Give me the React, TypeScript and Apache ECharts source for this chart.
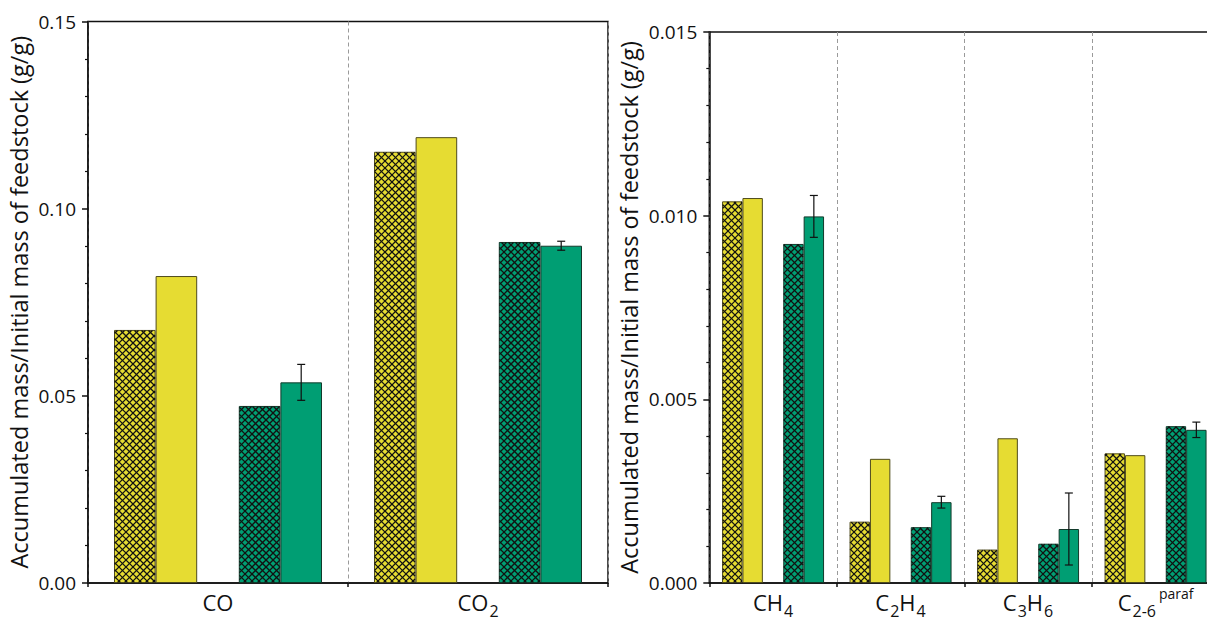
import React, { useEffect, useRef } from "react";
import * as echarts from "echarts";

// Gas categories (two panels)
const majorGases = ["CO", "CO2"];
const minorGases = ["CH4", "C2H4", "C3H6", "C2-6"];

// Accumulated mass / initial mass of feedstock (g/g)
const majorYellowHatched = [0.0676, 0.1152];
const majorYellow = [0.082, 0.1191];
const majorGreenHatched = [0.0473, 0.0911];
const majorGreen = [0.0536, 0.0901];
const majorGreenErr = [0.0048, 0.0012];

const minorYellowHatched = [0.01039, 0.00167, 0.00091, 0.00353];
const minorYellow = [0.01048, 0.00338, 0.00394, 0.00348];
const minorGreenHatched = [0.00923, 0.00152, 0.00107, 0.00427];
const minorGreen = [0.00998, 0.0022, 0.00147, 0.00417];
const minorGreenErr = [0.00057, 0.00016, 0.00098, 0.00021];

// Axis ranges / ticks
const majorTicks = { min: 0, max: 0.15, interval: 0.05, digits: 2 };
const minorTicksCfg = { min: 0, max: 0.015, interval: 0.005, digits: 3 };

const yAxisTitle = "Accumulated mass/Initial mass of feedstock (g/g)";

// Category labels with sub/superscripts
const categoryLabels: Record<string, string> = {
  CO: "{m|CO}",
  CO2: "{m|CO}{s|2}",
  CH4: "{m|CH}{s|4}",
  C2H4: "{m|C}{s|2}{m|H}{s|4}",
  C3H6: "{m|C}{s|3}{m|H}{s|6}",
  "C2-6": "{m|C}{s|2-6}{p|paraf}",
};

const FONT = "Open Sans";
const YELLOW = "#E6DC32";
const GREEN = "#009E73";
const YELLOW_EDGE = "#4f4b1c";
const GREEN_EDGE = "#123a2b";
const INK = "#111111";

// five equal slots per category: yellow-hatched, yellow, gap, green-hatched, green
const SLOTS = 5;
const GROUP_FRACTION = 0.8;

function barSeries(data: (number | null)[], axis: number, fill: string, edge: string) {
  return {
    type: "bar",
    xAxisIndex: axis,
    yAxisIndex: axis,
    data,
    barGap: "0%",
    barCategoryGap: "20%",
    itemStyle: { color: fill, borderColor: edge, borderWidth: 1 },
    emphasis: { disabled: true },
  };
}

// Cross-hatch overlay for a bar in the given slot (offset from the category centre)
function hatchSeries(values: number[], slot: number, axis: number) {
  return {
    type: "custom",
    xAxisIndex: axis,
    yAxisIndex: axis,
    z: 4,
    silent: true,
    data: values.map((v, i) => [i, v]),
    encode: { x: 0, y: 1 },
    renderItem: (_params: any, api: any) => {
      const cat = api.value(0);
      const v = api.value(1);
      const band = api.size([1, 0])[0];
      const bw = (band * GROUP_FRACTION) / SLOTS;
      const top = api.coord([cat, v]);
      const cx = top[0] + slot * bw;
      const x0 = cx - bw / 2 + 0.6;
      const x1 = cx + bw / 2 - 0.6;
      const y0 = top[1] + 0.6;
      const y1 = api.coord([cat, 0])[1] - 0.6;
      const p = 7;
      const style = { stroke: "#121212", lineWidth: 1.3 };
      const children: any[] = [];
      for (let c = Math.ceil((x0 + y0) / p) * p; c <= x1 + y1; c += p) {
        const xa = Math.max(x0, c - y1);
        const xb = Math.min(x1, c - y0);
        if (xb > xa)
          children.push({ type: "line", shape: { x1: xa, y1: c - xa, x2: xb, y2: c - xb }, style });
      }
      for (let c = Math.ceil((x0 - y1) / p) * p; c <= x1 - y0; c += p) {
        const xa = Math.max(x0, c + y0);
        const xb = Math.min(x1, c + y1);
        if (xb > xa)
          children.push({ type: "line", shape: { x1: xa, y1: xa - c, x2: xb, y2: xb - c }, style });
      }
      return { type: "group", children };
    },
  };
}

function errorSeries(values: number[], errs: number[], slot: number, axis: number) {
  return {
    type: "custom",
    xAxisIndex: axis,
    yAxisIndex: axis,
    z: 5,
    clip: false,
    silent: true,
    data: values.map((v, i) => [i, v, errs[i]]),
    encode: { x: 0, y: 1 },
    renderItem: (_params: any, api: any) => {
      const cat = api.value(0);
      const v = api.value(1);
      const e = api.value(2);
      const band = api.size([1, 0])[0];
      const bw = (band * GROUP_FRACTION) / SLOTS;
      const x = api.coord([cat, v])[0] + slot * bw;
      const yTop = api.coord([cat, v + e])[1];
      const yBot = api.coord([cat, v - e])[1];
      const style = { stroke: INK, lineWidth: 1.2 };
      return {
        type: "group",
        children: [
          { type: "line", shape: { x1: x, y1: yTop, x2: x, y2: yBot }, style },
          { type: "line", shape: { x1: x - 4, y1: yTop, x2: x + 4, y2: yTop }, style },
          { type: "line", shape: { x1: x - 4, y1: yBot, x2: x + 4, y2: yBot }, style },
        ],
      };
    },
  };
}

// Rich tokens share one padded height; top padding shifts sub/superscripts
const richStyles = {
  m: { fontFamily: FONT, fontSize: 22, color: INK, lineHeight: 22, padding: [5, 0, 9, 0] },
  s: { fontFamily: FONT, fontSize: 16, color: INK, lineHeight: 16, padding: [17, 0, 3, 1] },
  p: { fontFamily: FONT, fontSize: 14, color: INK, lineHeight: 14, padding: [0, 0, 22, 3] },
};

function xAxisFor(cats: string[], grid: number) {
  return {
    type: "category",
    gridIndex: grid,
    data: cats,
    axisLine: { lineStyle: { color: INK, width: 1.5 } },
    axisTick: { show: true, length: 4, interval: 0, lineStyle: { color: INK, width: 1.5 } },
    splitLine: {
      show: true,
      interval: 0,
      lineStyle: { color: "#9a9a9a", type: [4, 3], width: 1 },
    },
    axisLabel: {
      interval: 0,
      margin: 10,
      formatter: (v: string) => categoryLabels[v] ?? v,
      rich: richStyles,
    },
  };
}

function yAxisFor(cfg: typeof majorTicks, grid: number, nameGap: number) {
  return {
    type: "value",
    gridIndex: grid,
    min: cfg.min,
    max: cfg.max,
    interval: cfg.interval,
    name: yAxisTitle,
    nameLocation: "middle",
    nameGap,
    nameTextStyle: { fontFamily: FONT, fontSize: 23.5, color: INK },
    axisLine: { show: true, lineStyle: { color: INK, width: 1.5 } },
    axisTick: { show: true, length: 6, lineStyle: { color: INK, width: 1.5 } },
    minorTick: { show: true, splitNumber: 5, length: 3, lineStyle: { color: INK, width: 1.2 } },
    splitLine: { show: false },
    axisLabel: {
      margin: 12,
      fontFamily: FONT,
      fontSize: 19,
      color: INK,
      formatter: (v: number) => v.toFixed(cfg.digits),
    },
  };
}

export default function App() {
  const ref = useRef<HTMLDivElement>(null);

  useEffect(() => {
    if (!ref.current) return;
    const chart = echarts.init(ref.current, null, { renderer: "svg" });
    chart.setOption({
      animation: false,
      backgroundColor: "#ffffff",
      textStyle: { fontFamily: FONT },
      grid: [
        {
          left: 88,
          top: 21.5,
          width: 520,
          height: 563.5,
          show: true,
          borderColor: INK,
          borderWidth: 1.5,
          backgroundColor: "transparent",
        },
        {
          left: 709.3,
          top: 32,
          width: 510,
          height: 552.3,
          show: true,
          borderColor: INK,
          borderWidth: 1.5,
          backgroundColor: "transparent",
        },
      ],
      xAxis: [xAxisFor(majorGases, 0), xAxisFor(minorGases, 1)],
      yAxis: [yAxisFor(majorTicks, 0, 57), yAxisFor(minorTicksCfg, 1, 68)],
      series: [
        barSeries(majorYellowHatched, 0, YELLOW, YELLOW_EDGE),
        barSeries(majorYellow, 0, YELLOW, YELLOW_EDGE),
        barSeries(majorGases.map(() => null), 0, "transparent", "transparent"),
        barSeries(majorGreenHatched, 0, GREEN, GREEN_EDGE),
        barSeries(majorGreen, 0, GREEN, GREEN_EDGE),
        hatchSeries(majorYellowHatched, -2, 0),
        hatchSeries(majorGreenHatched, 1, 0),
        errorSeries(majorGreen, majorGreenErr, 2, 0),
        barSeries(minorYellowHatched, 1, YELLOW, YELLOW_EDGE),
        barSeries(minorYellow, 1, YELLOW, YELLOW_EDGE),
        barSeries(minorGases.map(() => null), 1, "transparent", "transparent"),
        barSeries(minorGreenHatched, 1, GREEN, GREEN_EDGE),
        barSeries(minorGreen, 1, GREEN, GREEN_EDGE),
        hatchSeries(minorYellowHatched, -2, 1),
        hatchSeries(minorGreenHatched, 1, 1),
        errorSeries(minorGreen, minorGreenErr, 2, 1),
      ],
    });
    return () => chart.dispose();
  }, []);

  return (
    <div
      style={{
        position: "absolute",
        left: 0,
        top: 0,
        width: 1207,
        height: 622,
        overflow: "hidden",
        background: "#fff",
      }}
    >
      <div ref={ref} style={{ width: 1232, height: 622 }} />
    </div>
  );
}
